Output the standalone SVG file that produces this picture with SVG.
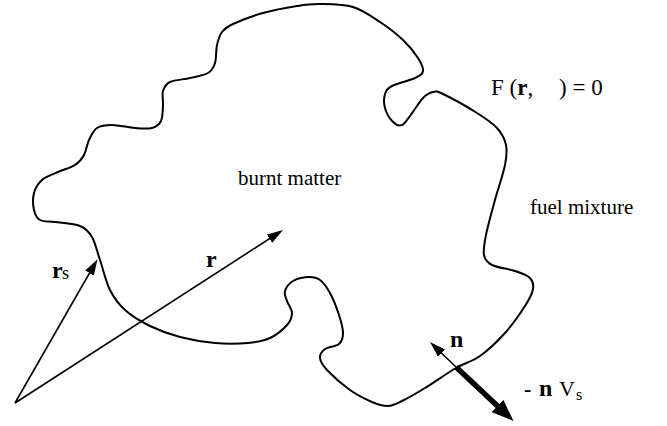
<svg xmlns="http://www.w3.org/2000/svg" width="667" height="426" viewBox="0 0 667 426">
<style>
text{font-family:"Liberation Serif","Times New Roman",serif;fill:#000}
.lbl{font-size:21px}
.b{font-weight:bold}
.front{fill:none;stroke:#000;stroke-width:2;stroke-linejoin:round}
.thin{stroke:#000;stroke-width:1.6;fill:none}
.thick{stroke:#000;stroke-width:5.5;fill:none}
</style>
<defs>
<marker id="ah" markerUnits="userSpaceOnUse" markerWidth="16" markerHeight="10" refX="11" refY="5" orient="auto"><path d="M0,0 L16,5 L0,10 z" fill="#000"/></marker>
<marker id="ahb" markerUnits="userSpaceOnUse" markerWidth="22" markerHeight="17" refX="11" refY="8.5" orient="auto"><path d="M0,0 L22,8.5 L0,17 z" fill="#000"/></marker>
</defs>
<g id="front">
<path class="front" d="M320,4 C329.3,4.2 343,4 353,7 S371.7,16.5 380,22 S396.7,34 403,40 S414.7,52.8 418,58 S423.5,67.7 423,71 S420.2,75.5 415,78 S397,83.3 392,86 S386.2,90.3 385,94 S383.7,103.3 385,108 S390.2,119.2 393,122 S399.2,126 402,125 S406.5,120.5 410,116 S419.2,102 423,98 S429.7,92.7 433,92 S435.7,90.5 443,94 S468,107.3 477,113 S492.2,122.7 497,128 S504.7,138.8 506,145 S506.8,155.8 505,165 S498.2,188.3 495,200 S487.8,225.8 486,235 S483,250 484,255 S486.8,262.3 492,265 S508.7,268.8 515,271 S527,275 530,278 S533.8,284.3 533,289 S529.7,298.7 525,306 S512.5,324.7 505,333 S488.2,350.2 480,356 S465.2,362.7 456,368 S434,382.5 425,388 S408.2,398 402,401 S393,405.8 388,406 S378.3,404.7 372,402 S357.5,395.3 350,390 S332,375.3 327,370 S320.3,361.5 320,358 S321.8,351.3 325,349 S336,346.7 339,344 S343,337.8 343,333 S341.2,321.7 339,315 S333.2,298.8 330,293 S323.7,282.7 320,280 S312.5,276.8 308,277 S296.8,278.7 293,281 S286,287.7 285,291 S285.8,297.3 287,301 S292,309 292,313 S290.7,320.8 287,325 S276.5,335 270,338 S257.2,342.2 248,343 S226.3,344 215,343 S190.8,339.8 180,337 S159.2,330.5 150,326 S131.7,316 125,310 S114.2,298.3 110,290 S103,268.8 100,260 S95.3,242.7 92,237 S86.2,228.5 80,226 S61.7,223 55,222 S43.5,222 40,220 S35,214.5 34,210 S32.7,198 34,193 S38,183.5 42,180 S52.5,174.5 58,172 S70.7,167.8 75,165 S81.7,159.2 84,155 S86.8,144.5 89,140 S93.2,130.5 97,128 S105.7,125 112,125 S128.3,127.5 135,128 S147.7,129.2 152,128 S159.2,124.8 161,121 S162.7,110 163,105 S161.8,94.8 163,91 S165.5,84.2 170,82 S183.7,79.5 190,78 S203.8,75.5 208,73 S213.5,67.7 215,63 S215.8,50.2 217,45 S219.3,35.5 222,32 S226.2,27.2 233,24 S252.3,16 263,13 S287.5,7.5 297,6 S310.7,3.8 320,4 Z"/>
</g>
<g id="connectors">
<line class="thin" x1="15" y1="403" x2="278.8" y2="232.7" marker-end="url(#ah)"/>
<line class="thin" x1="15" y1="403" x2="95" y2="263.5" marker-end="url(#ah)"/>
<line class="thin" x1="456" y1="367" x2="433.6" y2="345.5" marker-end="url(#ah)"/>
<line class="thick" x1="456" y1="367" x2="505.5" y2="413.5" marker-end="url(#ahb)"/>
</g>
<g id="burnt">
<text class="lbl" x="238" y="185">burnt matter</text>
</g>
<g id="fuel">
<text class="lbl" x="530" y="214">fuel mixture</text>
</g>
<g id="equation">
<text x="491" y="95" font-size="23">F (<tspan class="b">r</tspan>,</text>
<text x="559" y="95" font-size="23">) = 0</text>
</g>
<g id="label-r">
<text class="b" x="206" y="267" font-size="24">r</text>
</g>
<g id="label-rs">
<text x="52" y="278" font-size="24"><tspan class="b">r</tspan><tspan x="62" y="279" font-size="18">s</tspan></text>
</g>
<g id="label-n">
<text class="b" x="450" y="347" font-size="24">n</text>
</g>
<g id="label-nvs">
<text x="524" y="396" font-size="22"><tspan class="b">-</tspan><tspan class="b" x="539" font-size="24">n</tspan><tspan x="559">V</tspan><tspan x="576" y="400" font-size="16">s</tspan></text>
</g>
</svg>
